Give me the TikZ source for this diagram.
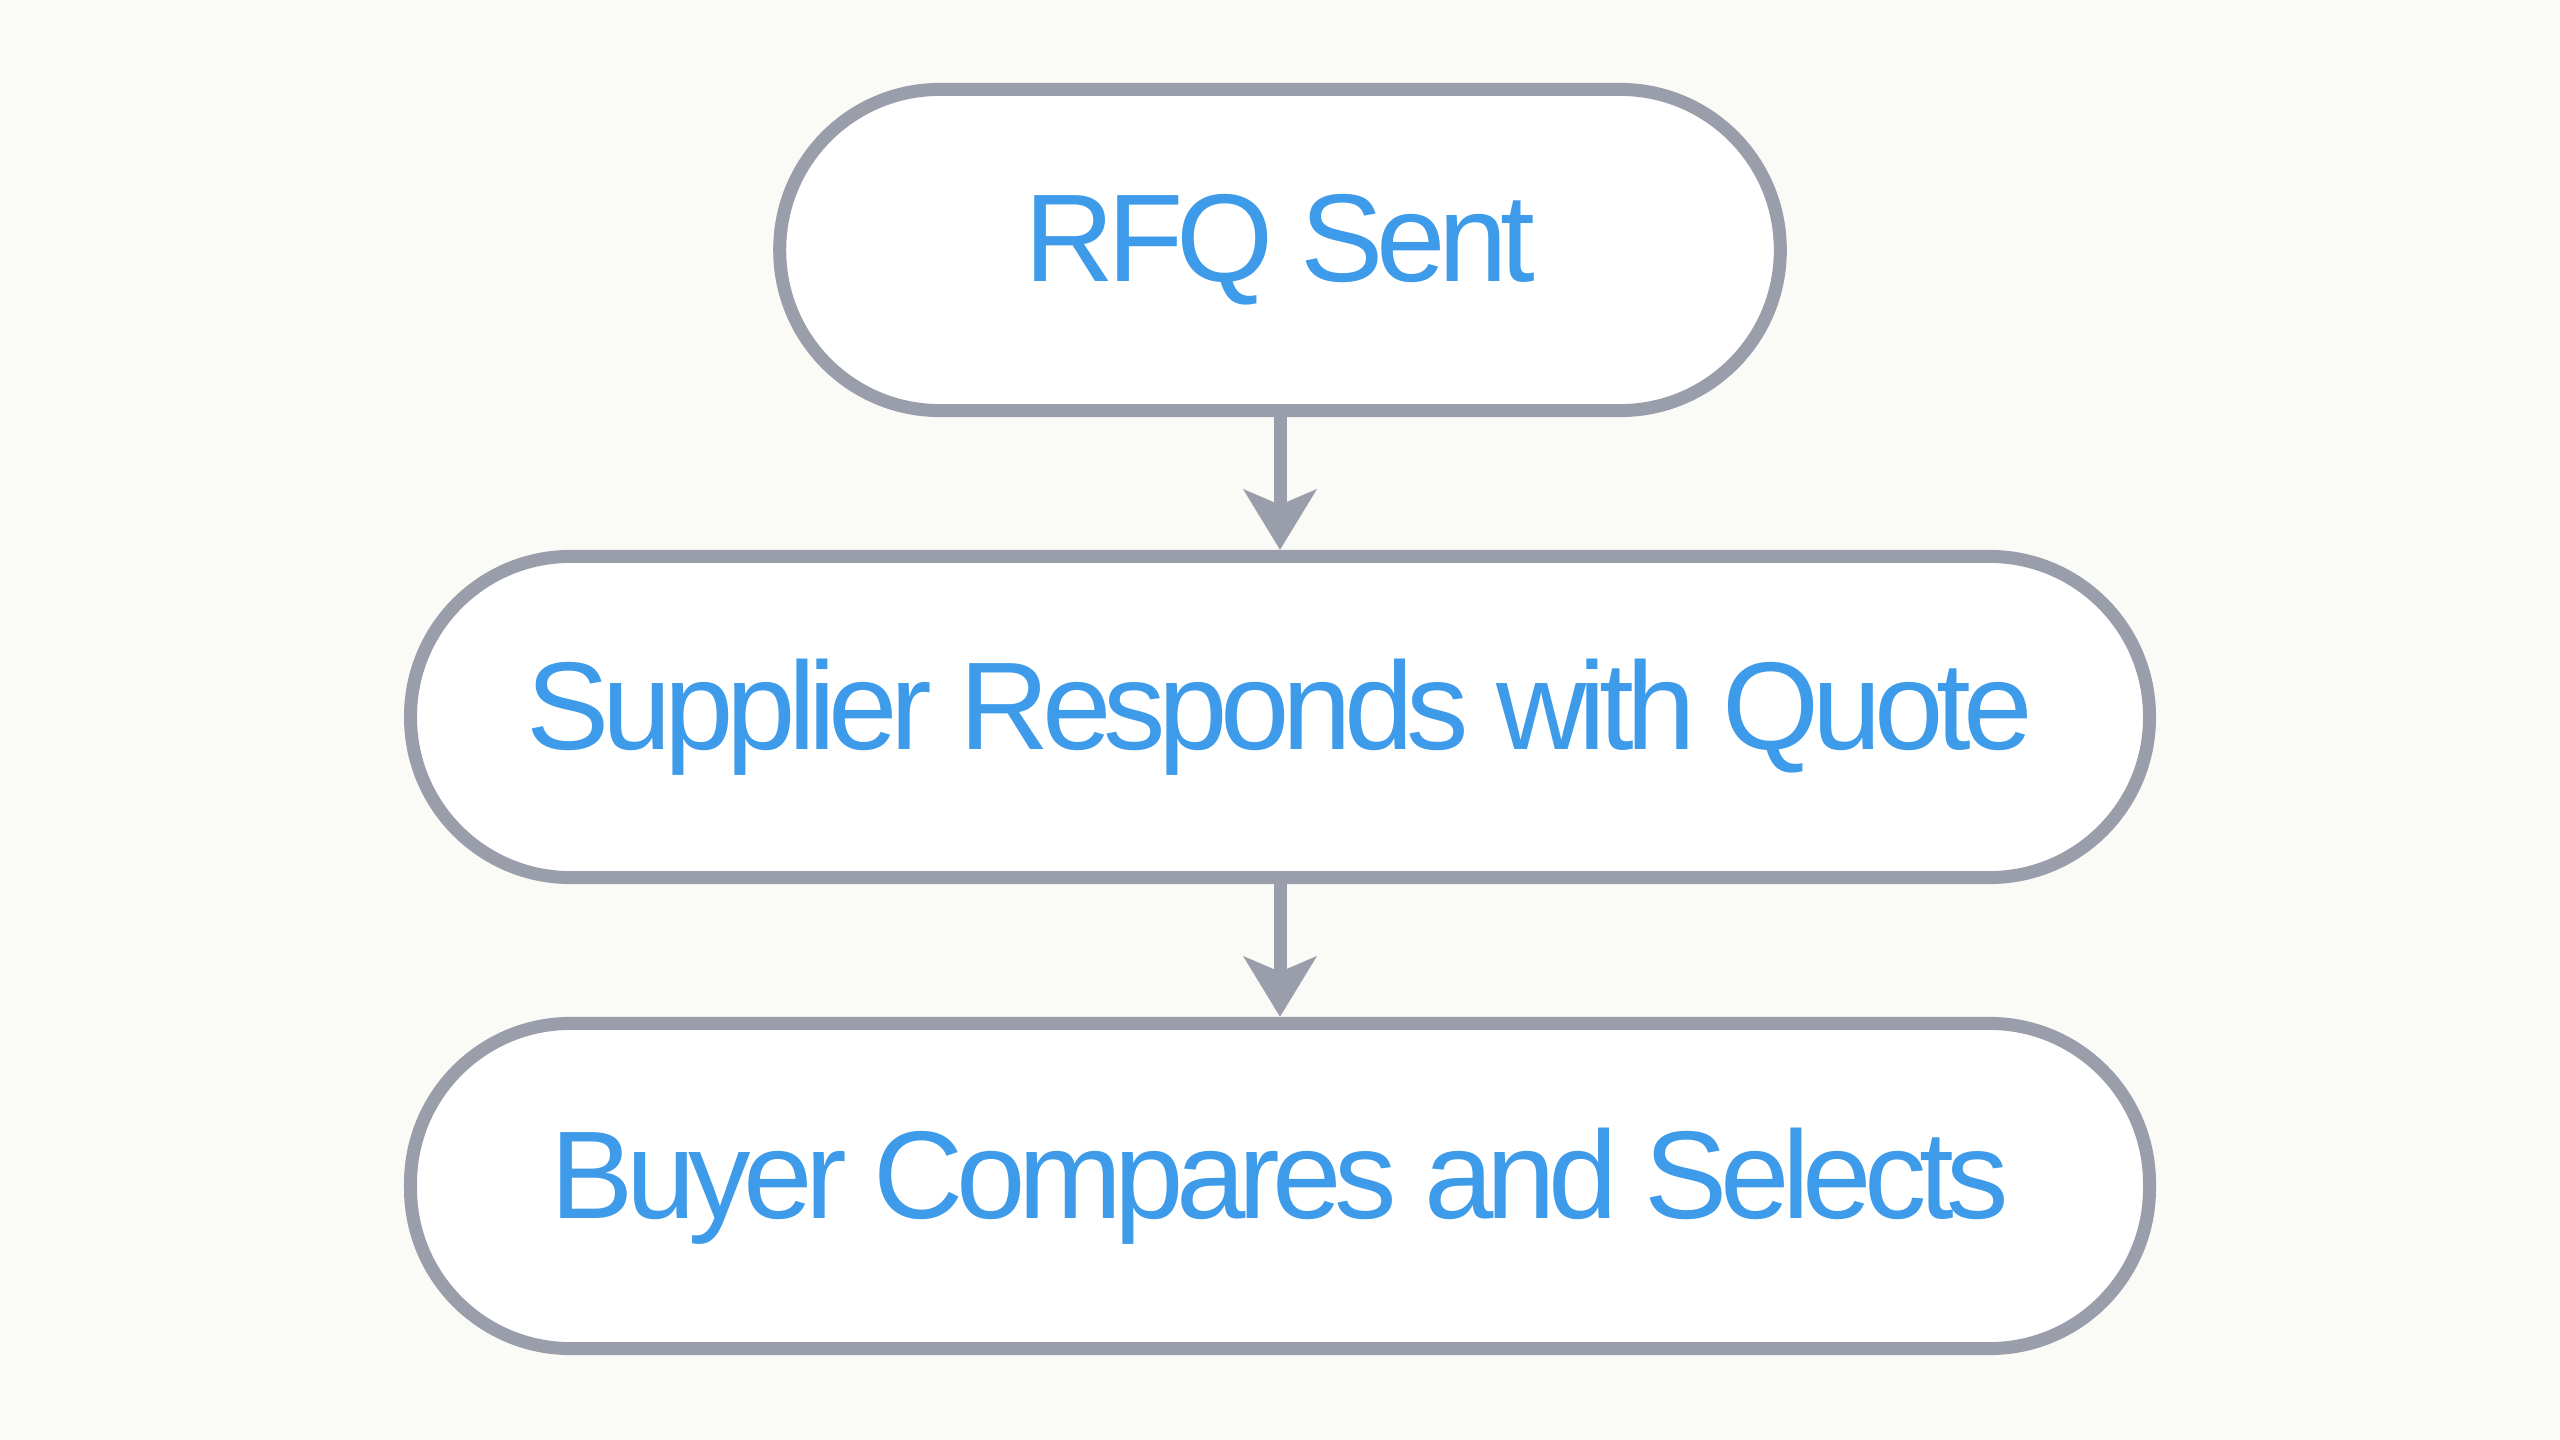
\documentclass[tikz,border=0pt]{standalone}
\usepackage{fontspec}
\setmainfont[LetterSpace=-6]{Liberation Sans}
\usetikzlibrary{arrows.meta}
\definecolor{bg}{HTML}{FAFAF7}
\definecolor{edge}{HTML}{9A9EAA}
\definecolor{txt}{HTML}{3D9BE9}
\begin{document}
\begin{tikzpicture}[x=0.01cm,y=-0.01cm,
  box/.style={draw=edge,line width=3.7pt,rectangle,rounded corners=1.6cm,fill=white,text=txt,
    font=\fontsize{35.5}{42}\selectfont,inner sep=0pt,minimum height=3.21cm},
  arr/.style={draw=edge,line width=3.7pt,-{Stealth[length=0.6cm,width=0.72cm,inset=0.15cm]}}]
\fill[bg] (0,0) rectangle (2560,1440);
\useasboundingbox (0,0) rectangle (2560,1440);
\node[box,minimum width=10cm] (a) at (1280,250) {RFQ Sent};
\node[box,minimum width=17.38cm] (b) at (1280,717) {Supplier Responds with Quote};
\node[box,minimum width=17.38cm,minimum height=3.25cm] (c) at (1280,1186) {Buyer Compares and Selects};
\draw[arr] (a.south) -- (b.north);
\draw[arr] (b.south) -- (c.north);
\end{tikzpicture}
\end{document}
